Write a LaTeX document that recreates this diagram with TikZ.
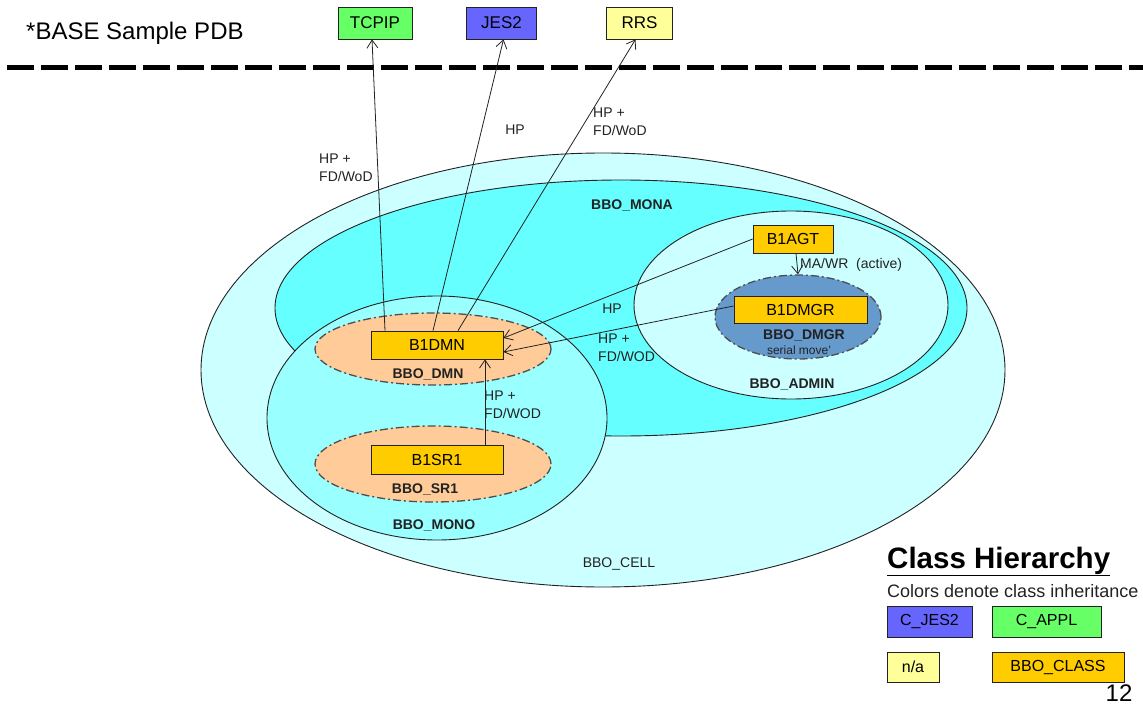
\documentclass[tikz,border=0pt]{standalone}
\usepackage{fontspec}
\setmainfont{Liberation Sans}
\usetikzlibrary{shapes.geometric,arrows.meta}
\definecolor{cellc}{HTML}{CCFFFF}
\definecolor{monac}{HTML}{66FFFF}
\definecolor{monoc}{HTML}{99FFFF}
\definecolor{adminc}{HTML}{CCFFFF}
\definecolor{peach}{HTML}{FFCC99}
\definecolor{dmgrc}{HTML}{6699CC}
\definecolor{gold}{HTML}{FFCC00}
\definecolor{grn}{HTML}{66FF66}
\definecolor{blu}{HTML}{6666FF}
\definecolor{ylw}{HTML}{FFFF99}
\definecolor{edge}{HTML}{222222}
\begin{document}
\begin{tikzpicture}[x=1pt,y=-1pt,
  region/.style={ellipse, draw=edge, line width=0.9pt, inner sep=0pt},
  dashell/.style={ellipse, draw=edge!80, line width=1.3pt, inner sep=0pt,
    dash pattern=on 8pt off 3pt on 2pt off 3pt},
  box/.style={draw=edge, line width=0.8pt, fill=gold, minimum height=28pt, inner sep=0pt,
    font=\fontsize{16}{19}\selectfont},
  tbox/.style={draw=edge, line width=0.8pt, minimum height=32pt, inner sep=0pt,
    font=\fontsize{17}{20}\selectfont},
  lbox/.style={draw=edge, line width=0.8pt, minimum height=31pt, inner sep=0pt,
    font=\fontsize{16}{19}\selectfont},
  lbl/.style={font=\fontsize{14}{18}\selectfont, align=left, inner sep=0pt, text=edge},
  blbl/.style={font=\bfseries\fontsize{14}{17}\selectfont, inner sep=0pt, text=edge},
  arr/.style={-{Straight Barb[length=8pt,width=11pt]}, line width=0.8pt, draw=edge}
]
\useasboundingbox (0,0) rectangle (1143,706);

% title and separator
\node[anchor=base west, font=\fontsize{24}{28}\selectfont, inner sep=0pt] (title) at (26,40) {*BASE Sample PDB};
\coordinate (dl) at (7,68);
\coordinate (dr) at (1143,68);
\draw[line width=5pt, dash pattern=on 27pt off 7pt] (dl) -- (dr);

% top boxes
\node[tbox, fill=grn, minimum width=74pt] (tcpip) at (375,23) {TCPIP};
\node[tbox, fill=blu, minimum width=70pt] (jes2) at (501.5,23) {JES2};
\node[tbox, fill=ylw, minimum width=66pt] (rrs) at (639.5,23) {RRS};

% regions
\node[region, fill=cellc, minimum width=804pt, minimum height=434pt] (cell) at (603,370) {};
\node[region, fill=monac, minimum width=692pt, minimum height=256pt] (mona) at (621,308) {};
\node[region, fill=adminc, minimum width=314pt, minimum height=188pt] (admin) at (791,305) {};
\node[region, fill=monoc, minimum width=340pt, minimum height=244pt] (mono) at (437,418) {};
\node[dashell, fill=peach, minimum width=236pt, minimum height=72pt] (dmnell) at (433,349) {};
\node[dashell, fill=peach, minimum width=236pt, minimum height=76pt] (sr1ell) at (433,464) {};
\node[dashell, fill=dmgrc, minimum width=166pt, minimum height=84pt] (dmgrell) at (798,317) {};

% region labels
\node[blbl] (lmona) at (632,205) {BBO\_MONA};
\node[blbl] (ladmin) at (792,384) {BBO\_ADMIN};
\node[blbl] (ldmgr) at (804,335) {BBO\_DMGR};
\node[font=\fontsize{12}{14}\selectfont, inner sep=0pt, text=edge] (lser) at (799,350) {serial move'};
\node[blbl] (ldmn) at (428,374) {BBO\_DMN};
\node[blbl] (lsr1) at (425,489) {BBO\_SR1};
\node[blbl] (lmono) at (434,525) {BBO\_MONO};
\node[lbl] (lcell) at (619,564) {BBO\_CELL};

% component boxes
\node[box, minimum width=132pt] (dmn) at (437,345) {B1DMN};
\node[box, minimum width=132pt, minimum height=29pt] (sr1) at (437,459.5) {B1SR1};
\node[box, minimum width=80pt] (agt) at (793,239) {B1AGT};
\node[box, minimum width=133pt, minimum height=27pt] (dmgr) at (800.5,309.5) {B1DMGR};

% connectors
\draw[arr] ([xshift=-52pt]dmn.north) -- ([xshift=-3pt]tcpip.south);
\draw[arr] ([xshift=-4pt]dmn.north) -- ([xshift=2pt]jes2.south);
\draw[arr] ([xshift=21pt]dmn.north) -- ([xshift=-4pt]rrs.south);
\draw[arr] (agt.west) -- ([yshift=7pt]dmn.east);
\draw[arr] ([yshift=3.5pt]dmgr.west) -- ([yshift=-7pt]dmn.east);
\draw[arr] ([xshift=48pt]sr1.north) -- ([xshift=48pt]dmn.south);
\draw[arr] ([xshift=3pt]agt.south) -- (dmgrell.north);

% connector labels
\node[lbl, anchor=west] (t1) at (319,168) {HP +\\FD/WoD};
\node[lbl] (t2) at (515,130) {HP};
\node[lbl, anchor=west] (t3) at (593,121.5) {HP +\\FD/WoD};
\node[lbl] (t4) at (612,309) {HP};
\node[lbl, anchor=west] (t5) at (598,348) {HP +\\FD/WOD};
\node[lbl, anchor=west] (t6) at (484,404.5) {HP +\\FD/WOD};
\node[lbl, anchor=west] (t7) at (800,265) {MA/WR~~(active)};

% legend
\node[anchor=base west, font=\bfseries\fontsize{29.5}{33}\selectfont, inner sep=0pt] (ch) at (887,568) {\underline{Class Hierarchy}};
\node[anchor=west, font=\fontsize{18}{22}\selectfont, inner sep=0pt, text=edge] (cd) at (887,591) {Colors denote class inheritance};
\node[lbox, fill=blu, minimum width=85pt] (ljes) at (929.5,621.5) {C\_JES2};
\node[lbox, fill=grn, minimum width=109pt] (lappl) at (1046.5,621.5) {C\_APPL};
\node[lbox, fill=ylw, minimum width=52pt, minimum height=30pt] (lna) at (913,667) {n/a};
\node[lbox, fill=gold, minimum width=132pt, minimum height=30pt] (lbbo) at (1058,667) {BBO\_CLASS};
\node[font=\fontsize{24}{28}\selectfont, inner sep=0pt] (pg) at (1119,693) {12};
\end{tikzpicture}
\end{document}
